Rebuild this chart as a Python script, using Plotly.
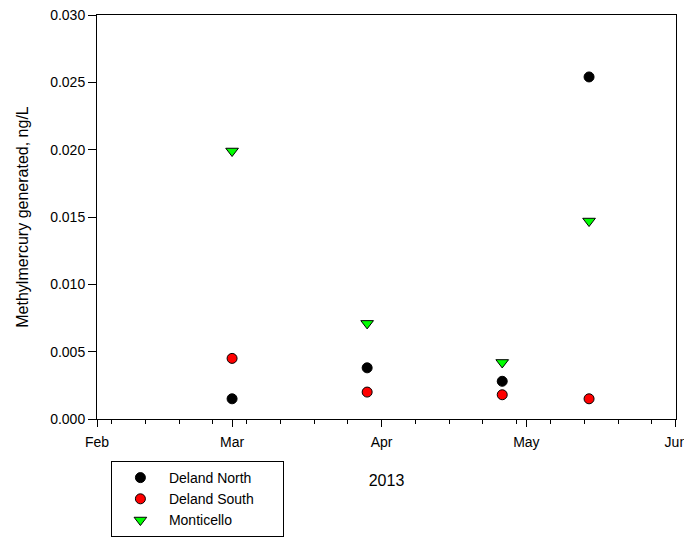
import plotly.graph_objects as go

# Sampling dates (2013) and methylmercury generated, ng/L
dates = ["2013-03-01", "2013-03-29", "2013-04-26", "2013-05-14"]
deland_north = [0.0015, 0.0038, 0.0028, 0.0254]
deland_south = [0.0045, 0.0020, 0.0018, 0.0015]
monticello = [0.0199, 0.0071, 0.0042, 0.0147]
site_names = ["Deland North", "Deland South", "Monticello"]

FONT = "Liberation Sans, Arial, sans-serif"
PAD = "\u00a0" * 6  # widens the legend box a little

fig = go.Figure()
styles = [("circle", "black", 10), ("circle", "#ff0000", 10), ("triangle-down", "#00ff00", 11)]
for name, vals, (sym, col, size) in zip(site_names, [deland_north, deland_south, monticello], styles):
    fig.add_trace(go.Scatter(
        x=dates, y=vals, mode="markers", name=name + PAD,
        marker=dict(symbol=sym, size=size, color=col, line=dict(color="black", width=1)),
    ))

fig.update_layout(
    width=684, height=544,
    margin=dict(l=97, r=8, t=15, b=125, autoexpand=False),
    paper_bgcolor="white", plot_bgcolor="white",
    font=dict(family=FONT, size=14, color="black"),
    showlegend=True,
    legend=dict(
        x=0.024, y=-0.104, xanchor="left", yanchor="top",
        bordercolor="black", borderwidth=1, bgcolor="white",
        font=dict(family=FONT, size=14), itemwidth=47, tracegroupgap=0,
    ),
)
fig.update_xaxes(
    type="date", range=["2013-02-01", "2013-06-01 00:30"],
    tick0="2013-02-01", dtick="M1", tickformat="%b",
    ticks="outside", ticklen=7, tickwidth=1, tickcolor="black",
    ticklabeloverflow="allow", ticklabelstandoff=3, automargin=False,
    showline=True, linecolor="black", linewidth=1, mirror=True,
    showgrid=False, zeroline=False,
    minor=dict(tick0="2013-02-04", dtick=7 * 86400000, ticks="outside",
               ticklen=4, tickcolor="black", showgrid=False),
    title=dict(text="2013", font=dict(family=FONT, size=16), standoff=26),
)
fig.update_yaxes(
    range=[0, 0.030], tick0=0, dtick=0.005, tickformat=".3f",
    ticks="outside", ticklen=8, tickwidth=1, tickcolor="black",
    showline=True, linecolor="black", linewidth=1, mirror=True,
    showgrid=False, zeroline=False, automargin=False,
    title=dict(text="Methylmercury generated, ng/L", font=dict(family=FONT, size=16), standoff=17),
)

fig.write_html("out.html")
